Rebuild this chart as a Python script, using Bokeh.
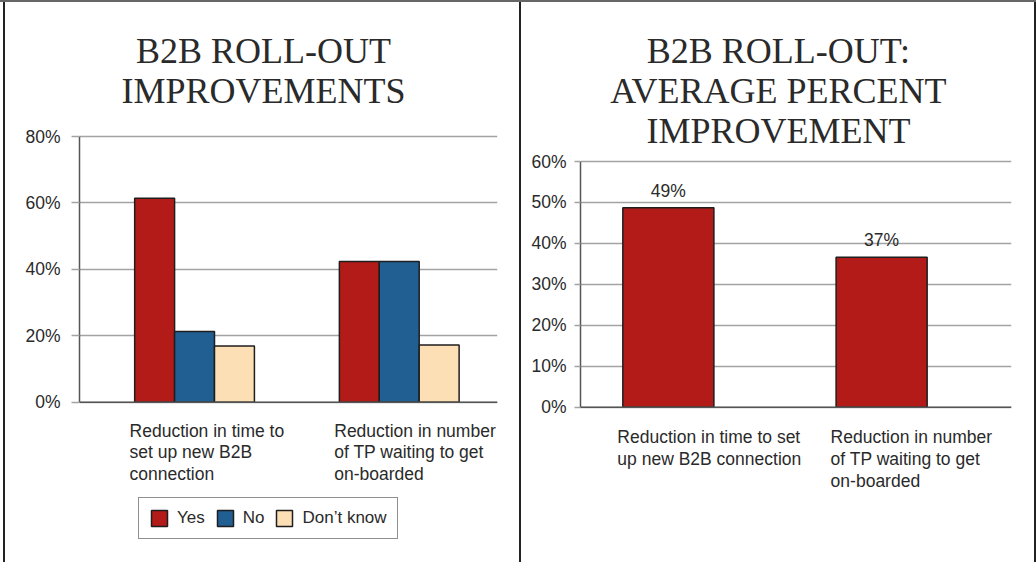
import numpy as np
from bokeh.plotting import figure
from bokeh.models import Range1d, FixedTicker, PrintfTickFormatter, Label, Spacer, Span
from bokeh.layouts import row, column
from bokeh.embed import file_html
from bokeh.resources import INLINE

# ---------------- data ----------------
categories = ["Reduction in time to\nset up new B2B\nconnection",
              "Reduction in number\nof TP waiting to get\non-boarded"]
categories_right = ["Reduction in time to set\nup new B2B connection",
                    "Reduction in number\nof TP waiting to get\non-boarded"]
series_names = ["Yes", "No", "Don\u2019t know"]
yes_vals = [61.4, 42.4]
no_vals = [21.3, 42.4]
dk_vals = [16.9, 17.2]
avg_vals = [48.7, 36.6]
avg_labels = ["49%", "37%"]
left_ticks = [0, 20, 40, 60, 80]
right_ticks = [0, 10, 20, 30, 40, 50, 60]
left_title = ["B2B ROLL-OUT", "IMPROVEMENTS"]
right_title = ["B2B ROLL-OUT:", "AVERAGE PERCENT", "IMPROVEMENT"]

# ---------------- style ----------------
RED, BLUE, PEACH = "#B31B18", "#215E91", "#FDDFB5"
GRID = "#a3a3a3"
AXIS = "#555555"
TXT = "#2a2a2a"
SANS = "Liberation Sans"
SERIF = "Liberation Serif"
H = 560


def style(p, ticks, top):
    p.outline_line_color = None
    p.background_fill_color = "white"
    p.border_fill_color = "white"
    p.xgrid.grid_line_color = None
    p.ygrid.grid_line_color = GRID
    p.ygrid.grid_line_width = 1.5
    p.yaxis.ticker = FixedTicker(ticks=ticks)
    p.yaxis.bounds = (0, top)
    p.yaxis.formatter = PrintfTickFormatter(format="%d%%")
    p.yaxis.axis_line_color = AXIS
    p.yaxis.axis_line_width = 1.5
    p.yaxis.major_tick_line_color = GRID
    p.yaxis.major_tick_line_width = 1.5
    p.yaxis.major_tick_in = 0
    p.yaxis.minor_tick_line_color = None
    p.yaxis.major_label_text_font = SANS
    p.yaxis.major_label_text_font_size = "17.5px"
    p.yaxis.major_label_text_color = TXT
    p.add_layout(Span(location=0, dimension="width", line_color=AXIS, line_width=1.5))


def add_lines(p, x, y, lines, dy0, step, size, font, align, xoff=0, down=True):
    for k, t in enumerate(lines):
        off = -(dy0 + k * step) if down else (dy0 - k * step)
        p.add_layout(Label(x=x, y=y, text=t, x_offset=xoff, y_offset=off,
                           text_font=font, text_font_size=size,
                           text_color=TXT, text_align=align,
                           text_baseline="alphabetic"))


# ---------------- left chart ----------------
p1 = figure(width=514, height=H, output_backend="svg", toolbar_location=None,
            title=None, x_axis_location=None,
            x_range=Range1d(-0.562, 1.480), y_range=Range1d(-44.65, 120.35),
            min_border_left=74, min_border_right=22, min_border_top=0,
            min_border_bottom=12)
style(p1, left_ticks, 80)
p1.yaxis.major_tick_out = 8
p1.yaxis.major_label_standoff = 11

xs = np.arange(len(categories))
bw = 0.195
for vals, off, col, name in [(yes_vals, -bw, RED, series_names[0]),
                             (no_vals, 0.0, BLUE, series_names[1]),
                             (dk_vals, bw, PEACH, series_names[2])]:
    p1.vbar(x=xs + off, top=vals, width=bw, bottom=0, fill_color=col,
            line_color="#1e1e1e", line_width=1.5, legend_label=name)

for i, c in enumerate(categories):
    add_lines(p1, float(i), 0, c.split("\n"), 28.5, 21.7, "17.5px", SANS, "left", xoff=-65)

add_lines(p1, 0.337, 80, left_title, 86, 40, "36px", SERIF, "center", down=False)

lg = p1.legend[0]
lg.orientation = "horizontal"
lg.location = (59, 11)
lg.label_text_font = SANS
lg.label_text_font_size = "17px"
lg.label_text_color = TXT
lg.glyph_width = 20
lg.glyph_height = 20
lg.label_standoff = 8
lg.spacing = 10
lg.padding = 10
lg.margin = 0
lg.border_line_color = "#222222"
lg.border_line_width = 1.2
lg.background_fill_color = "white"
lg.background_fill_alpha = 1.0

# ---------------- right chart ----------------
p2 = figure(width=513, height=H, output_backend="svg", toolbar_location=None,
            title=None, x_axis_location=None,
            x_range=Range1d(-0.412, 1.609), y_range=Range1d(-34.99, 98.83),
            min_border_left=59, min_border_right=23, min_border_top=0,
            min_border_bottom=12)
style(p2, right_ticks, 60)
p2.yaxis.major_tick_out = 6
p2.yaxis.major_label_standoff = 8

xs2 = np.arange(len(categories_right))
p2.vbar(x=xs2, top=avg_vals, width=0.427, bottom=0, fill_color=RED,
        line_color="#1e1e1e", line_width=1.5)
for i, (v, t) in enumerate(zip(avg_vals, avg_labels)):
    p2.add_layout(Label(x=float(i), y=v, text=t, y_offset=17, text_align="center",
                        text_baseline="alphabetic", text_font=SANS,
                        text_font_size="17.5px", text_color=TXT))
for i, c in enumerate(categories_right):
    add_lines(p2, float(i), 0, c.split("\n"), 30, 21.7, "17.5px", SANS, "left", xoff=-51)

add_lines(p2, 0.516, 60, right_title, 111, 40, "36px", SERIF, "center", down=False)


def bar(w, h, color):
    return Spacer(width=w, height=h, styles={"background-color": color})


layout = column(
    bar(1036, 2, "#666666"),
    row(bar(3, H, "#ffffff"), bar(2, H, "#222222"), p1,
        bar(2, H, "#222222"), p2, bar(2, H, "#222222")),
)
open("out.html", "w").write(file_html(layout, INLINE))
